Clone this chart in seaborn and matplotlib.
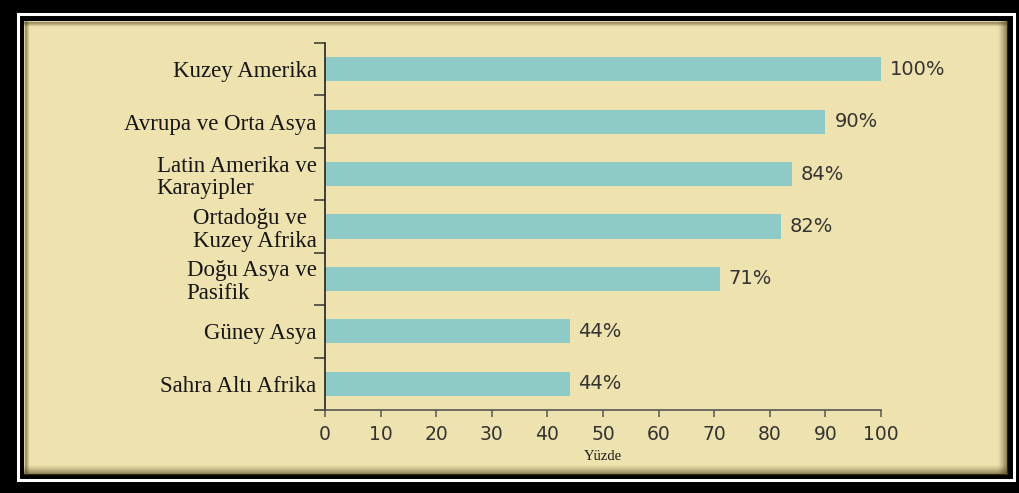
import matplotlib
matplotlib.use("Agg")
import matplotlib.pyplot as plt
from matplotlib.patches import Rectangle
from matplotlib.lines import Line2D
from matplotlib.ticker import FixedLocator
import numpy as np
import pandas as pd
import seaborn as sns

# Share of population (percent) by region
regions = [
    "Kuzey Amerika",
    "Avrupa ve Orta Asya",
    "Latin Amerika ve\nKarayipler",
    "Ortadoğu ve\nKuzey Afrika",
    "Doğu Asya ve\nPasifik",
    "Güney Asya",
    "Sahra Altı Afrika",
]
percent = [100, 90, 84, 82, 71, 44, 44]
x_ticks = [0, 10, 20, 30, 40, 50, 60, 70, 80, 90, 100]
x_label = "Yüzde"

W, H = 1019, 493
BEIGE = "#EEE2AE"
BAR = "#8FCBC6"
TEXT = "#333333"

sns.set_theme(style="white")
plt.rcParams["font.family"] = ["DejaVu Sans"]

fig = plt.figure(figsize=(W / 100, H / 100), dpi=100, facecolor="black")


def px_rect(x0, y0, x1, y1, **kw):
    """Rectangle given in pixel coordinates (origin top-left)."""
    r = Rectangle((x0 / W, 1 - y1 / H), (x1 - x0) / W, (y1 - y0) / H,
                  transform=fig.transFigure, **kw)
    fig.add_artist(r)
    return r


def px_line(x0, y0, x1, y1, **kw):
    ln = Line2D([x0 / W, x1 / W], [1 - y0 / H, 1 - y1 / H],
                transform=fig.transFigure, **kw)
    fig.add_artist(ln)


# Framed panel: thin white rule, black band, beige board
px_rect(17.5, 14, 1013.5, 480, facecolor="none", edgecolor="white", linewidth=2.2, zorder=0)
px_rect(24, 21, 1007, 474, facecolor=BEIGE, edgecolor="none", zorder=0)

# Inner shading along the board edges
for i in range(10):
    a = 0.55 * (1 - i / 10) ** 1.5
    px_line(1007 - i - 0.5, 21, 1007 - i - 0.5, 474, color="#4a3c18", alpha=a, linewidth=1, zorder=0.5)
    px_line(24, 474 - i - 0.5, 1007, 474 - i - 0.5, color="#4a3c18", alpha=a, linewidth=1, zorder=0.5)
for i in range(4):
    a = 0.45 * (1 - i / 4)
    px_line(24 + i + 0.5, 21, 24 + i + 0.5, 474, color="#4a3c18", alpha=a, linewidth=1, zorder=0.5)
    px_line(24, 21 + i + 0.5, 1007, 21 + i + 0.5, color="#4a3c18", alpha=a, linewidth=1, zorder=0.5)

# Plot area
left, right, top, bottom = 325, 881, 43, 410
ax = fig.add_axes([left / W, 1 - bottom / H, (right - left) / W, (bottom - top) / H])
ax.set_facecolor("none")

df = pd.DataFrame({"region": regions, "percent": percent})
sns.barplot(data=df, x="percent", y="region", orient="h", color=BAR,
            saturation=1, width=0.46, linewidth=0, edgecolor="none", ax=ax, zorder=2)

ax.set_xlim(0, 100)
ax.set_ylim(len(regions) - 0.5, -0.5)
ax.set_xticks(x_ticks)
ax.set_xticklabels([str(t) for t in x_ticks], fontsize=13.5, color=TEXT,
                   family="DejaVu Sans")

ax.set_ylabel("")
ax.set_xlabel(x_label, fontsize=10.5, family="Liberation Serif", color="#1a1a1a", labelpad=4)

for lbl in ax.get_yticklabels():
    lbl.set_fontfamily("Liberation Serif")
    lbl.set_fontsize(16.5)
    lbl.set_color("#161616")
    lbl.set_multialignment("left")
    lbl.set_linespacing(1.12)

# Category separators on the y axis
ax.yaxis.set_minor_locator(FixedLocator(np.arange(-0.5, len(regions), 1.0)))
ax.tick_params(axis="y", which="major", length=0, pad=6)
ax.tick_params(axis="y", which="minor", left=True, length=8, width=1.1, color="#333333", direction="out")
ax.tick_params(axis="x", which="major", bottom=True, length=5, width=1.1, color="#555555",
               direction="out", pad=6)

for s in ["top", "right"]:
    ax.spines[s].set_visible(False)
ax.spines["left"].set_color("#222222")
ax.spines["left"].set_linewidth(1.2)
ax.spines["bottom"].set_color("#555555")
ax.spines["bottom"].set_linewidth(1.2)

# Value labels at bar ends
for i, v in enumerate(percent):
    ax.text(v + 1.6, i, f"{v}%", va="center", ha="left", fontsize=14,
            color=TEXT, family="DejaVu Sans", zorder=3)

fig.savefig("out.png", dpi=100, facecolor="black")
